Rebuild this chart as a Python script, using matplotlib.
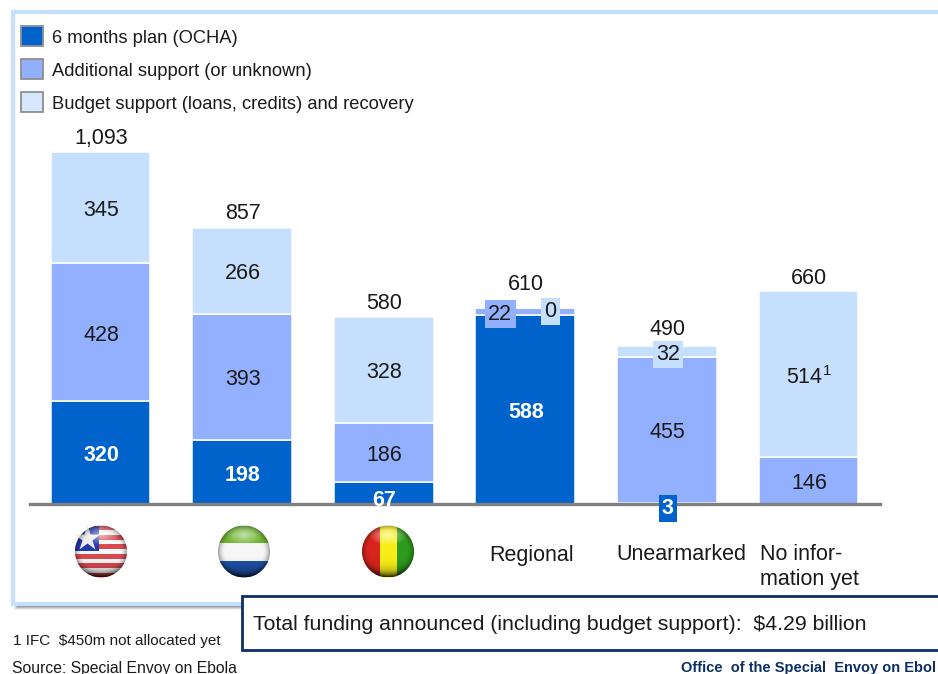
import matplotlib
matplotlib.use('Agg')
import matplotlib.pyplot as plt
from matplotlib.patches import Rectangle, Circle
import numpy as np

plt.rcParams['font.family'] = ['Liberation Sans', 'DejaVu Sans']

categories = ['Liberia', 'Sierra Leone', 'Guinea', 'Regional', 'Unearmarked', 'No infor-\nmation yet']
ocha = [320, 198, 67, 588, 3, 0]
additional = [428, 393, 186, 22, 455, 146]
budget = [345, 266, 328, 0, 32, 514]
totals = ['1,093', '857', '580', '610', '490', '660']
legend_labels = ['6 months plan (OCHA)', 'Additional support (or unknown)',
                 'Budget support (loans, credits) and recovery']

DARK = '#0063CC'
MID = '#93B0FF'
LIGHT = '#C6DFFC'
NAVY = '#0B2F66'
TXT = '#1a1a1a'
W, H = 938, 674

fig = plt.figure(figsize=(W / 100, H / 100), dpi=100)

# background layer, in pixels
bg = fig.add_axes([0, 0, 1, 1], zorder=0)
bg.set_xlim(0, W)
bg.set_ylim(H, 0)
bg.axis('off')

# soft shadow under the panel
for i, a in enumerate([0.10, 0.18, 0.28, 0.40]):
    bg.add_patch(Rectangle((14 + i, 14), W, 596 - i, fc='#6f6f6f', ec='none', alpha=a))
bg.add_patch(Rectangle((12.5, 11.5), W, 592, fc='white', ec='#C6DFFC', lw=3))

# legend
for y, c, lab in zip([36, 69, 102], [DARK, MID, '#D6E6FD'], legend_labels):
    bg.add_patch(Rectangle((21, y - 10), 22, 20, fc=c, ec='#8f8f8f', lw=1.3))
    bg.text(52, y + 2.5, lab, fontsize=13.2, color=TXT, va='center', ha='left')

# flags
def flag(cx, cy, bands, extra=None):
    clip = Circle((cx, cy), 26, transform=bg.transData)
    for x, y, w, h, c in bands:
        p = Rectangle((cx + x, cy + y), w, h, fc=c, ec='none', zorder=3)
        bg.add_patch(p)
        p.set_clip_path(clip)
    if extra:
        extra(cx, cy, clip)
    # shading: bright top, dark rim
    n = 120
    yy, xx = np.mgrid[-1:1:n * 1j, -1:1:n * 1j]
    rr = np.hypot(xx, yy)
    img = np.zeros((n, n, 4))
    dark = np.clip((rr - 0.72) / 0.28, 0, 1) ** 2 * 0.35 + np.clip(yy, 0, 1) ** 3 * 0.5
    light = np.clip(1 - np.hypot(xx, (yy + 0.62) * 1.8) / 0.75, 0, 1) * 0.6
    alpha = np.clip(dark + light, 0, 1)
    shade = light / np.maximum(light + dark, 1e-6)
    img[..., 0] = img[..., 1] = img[..., 2] = shade
    img[..., 3] = alpha
    im = bg.imshow(img, extent=(cx - 26, cx + 26, cy + 26, cy - 26), zorder=4, aspect='auto')
    im.set_clip_path(Circle((cx, cy), 26, transform=bg.transData))


def liberia_canton(cx, cy, clip):
    p = Rectangle((cx - 26, cy - 26), 24, 25, fc='#2238B0', ec='none', zorder=3.2)
    bg.add_patch(p)
    p.set_clip_path(clip)
    bg.plot([cx - 14], [cy - 14], marker='*', ms=20, color='#EDEDED', mec='none', zorder=3.4)


stripe_h = 52 / 11
lib_bands = [(-26, -26 + i * stripe_h, 52, stripe_h, '#D84A50' if i % 2 == 0 else '#F7F7F7')
             for i in range(11)]
flag(101, 551.5, lib_bands, liberia_canton)
flag(244, 551.5, [(-26, -26, 52, 17.5, '#6FB330'), (-26, -8.5, 52, 17.5, '#F6F6F6'),
                  (-26, 9, 52, 17, '#1F52A8')])
flag(388, 551.5, [(-26, -26, 17.5, 52, '#D8241C'), (-8.5, -26, 17.5, 52, '#F7EE17'),
                  (9, -26, 17, 52, '#2E9A1C')])

# chart layer: axis spans 30..880 px, baseline at y=504, 1093 at y=152
ax = fig.add_axes([30 / W, 1 - 504 / H, 850 / W, 352 / H], zorder=1)
ax.patch.set_alpha(0)
pos = np.arange(len(categories))
ax.set_xlim(-0.498, 5.505)
ax.set_ylim(0, 1093)
for s in ['top', 'right', 'left']:
    ax.spines[s].set_visible(False)
ax.spines['bottom'].set_color('#808080')
ax.spines['bottom'].set_linewidth(2.4)
ax.set_yticks([])
ax.set_xticks([])

ocha_arr = np.array(ocha)
add_arr = np.array(additional)
bud_arr = np.array(budget)
width = 0.706
ax.bar(pos, ocha_arr, width, color=DARK, edgecolor='white', linewidth=1.1)
ax.bar(pos, add_arr, width, bottom=ocha_arr, color=MID, edgecolor='white', linewidth=1.1)
ax.bar(pos, bud_arr, width, bottom=ocha_arr + add_arr, color=LIGHT, edgecolor='white', linewidth=1.1)

FS = 15.5


def label(x, y, s, dx=0.5, dy=-3, **kw):
    kw.setdefault('color', TXT)
    return ax.annotate(s, (x, y), xytext=(dx, dy), textcoords='offset pixels', ha='center',
                       va='center', fontsize=FS, annotation_clip=False, **kw)


total_gap = [13, 15, 13, 23, 17, 13]
for i, t in enumerate(totals):
    label(pos[i], ocha[i] + additional[i] + budget[i], t, dy=total_gap[i])

# segment labels sitting inside their bars
for i in [0, 1, 3]:
    label(pos[i], ocha[i] / 2, str(ocha[i]), color='white', fontweight='bold')
label(pos[2], ocha[2] / 2, str(ocha[2]), dy=-7, color='white', fontweight='bold')
for i in [0, 1, 2, 4, 5]:
    label(pos[i], ocha[i] + additional[i] / 2, str(additional[i]))
for i in [0, 1, 2]:
    label(pos[i], ocha[i] + additional[i] + budget[i] / 2, str(budget[i]))
label(pos[5], ocha[5] + additional[5] + budget[5] / 2, '514$^{\\mathregular{1}}$')

# small boxed labels on the thin segments
label(pos[3], 599, '22', dx=-25, dy=-3, zorder=5,
      bbox=dict(boxstyle='square,pad=0.15', fc=MID, ec='none'))
label(pos[3], 610, '0', dx=25, dy=-4, zorder=5,
      bbox=dict(boxstyle='square,pad=0.15', fc=LIGHT, ec='none'))
label(pos[4], 474, '32', dx=1, dy=-3, zorder=5,
      bbox=dict(boxstyle='square,pad=0.15', fc=LIGHT, ec='none'))
label(pos[4], 1.5, '3', dx=1, dy=-5, color='white', fontweight='bold', zorder=5,
      bbox=dict(boxstyle='square,pad=0.16', fc=DARK, ec='none'))

# text categories under the axis (flags stand in for the first three)
fig.text(531.5 / W, 1 - 556 / H, categories[3], ha='center', va='center', fontsize=FS, color=TXT, zorder=3)
fig.text(681 / W, 1 - 555 / H, categories[4], ha='center', va='center', fontsize=FS, color=TXT, zorder=3)
fig.text(760 / W, 1 - 567.5 / H, categories[5], ha='left', va='center', fontsize=FS, color=TXT,
         linespacing=1.25, zorder=3)

# total box and footer
bg.add_patch(Rectangle((242, 596), 720, 54, fc='white', ec=NAVY, lw=2, zorder=6))
bg.text(253, 625, 'Total funding announced (including budget support):  $4.29 billion',
        fontsize=15.35, color=TXT, va='center', ha='left', zorder=7, parse_math=False)
bg.text(13, 641, '1 IFC  $450m not allocated yet', fontsize=11, color=TXT, va='center',
        ha='left', parse_math=False)
bg.text(12, 668, 'Source: Special Envoy on Ebola', fontsize=11.3, color=TXT, va='center', ha='left')
bg.text(681, 668, 'Office  of the Special  Envoy on Ebol', fontsize=10.5, color=NAVY,
        fontweight='bold', va='center', ha='left')

fig.savefig('out.png', dpi=100)
